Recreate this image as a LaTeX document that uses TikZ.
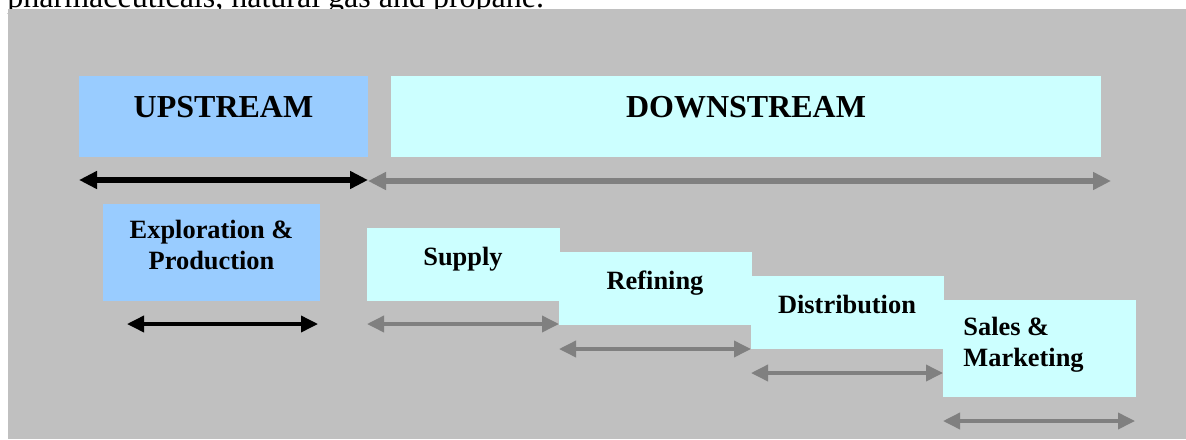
\documentclass[tikz,border=0pt]{standalone}
\usepackage{fontspec}
\setmainfont{Liberation Serif}
\usetikzlibrary{arrows.meta}
\definecolor{panel}{HTML}{C0C0C0}
\definecolor{upblue}{HTML}{99CCFF}
\definecolor{downcyan}{HTML}{CCFFFF}
\definecolor{spangray}{HTML}{808080}
\begin{document}
\begin{tikzpicture}[x=0.5pt,y=-0.5pt,
    up/.style={fill=upblue},
    down/.style={fill=downcyan},
    big/.style={font=\fontsize{16}{19}\selectfont\bfseries,inner sep=0pt},
    lbl/.style={font=\fontsize{13.2}{15.2}\selectfont\bfseries,inner sep=0pt},
    span/.style={line width=2.7pt,{Triangle[length=9pt,width=8.5pt]}-{Triangle[length=9pt,width=8.5pt]}},
    subspan/.style={line width=1.8pt,{Triangle[length=8.5pt,width=8pt]}-{Triangle[length=8.5pt,width=8pt]}},
  ]
  \useasboundingbox (0,0) rectangle (1186,439);
  \clip (0,0) rectangle (1186,439);
  \node[anchor=base west,inner sep=0pt,font=\fontsize{16}{19}\selectfont] (intro) at (7,7) {pharmaceuticals, natural gas and propane.};
  \fill[panel] (8,9) rectangle (1186,439);
  % boxes
  \fill[up] (79,76) rectangle (368,157);
  \fill[down] (391,76) rectangle (1101,157);
  \fill[up] (103,204) rectangle (320,301);
  \foreach \i/\h in {0/73,1/73,2/73,3/97}{
    \fill[down] (367+192*\i,228+24*\i) rectangle ++(193,\h);
  };
  % spans
  \draw[span] (79,180) -- (368,180);
  \draw[span,spangray] (368,181) -- (1111,181);
  \draw[subspan] (127,324) -- (318,324);
  \foreach \i/\y in {0/324,1/349,2/373,3/421}{
    \draw[subspan,spangray] (367+192*\i,\y) -- ++(192,0);
  };
  % labels
  \node[big,anchor=base] (upstream) at (223.5,117) {UPSTREAM};
  \node[big,anchor=base] (downstream) at (746,117) {DOWNSTREAM};
  \node[lbl,anchor=base,align=center] (explore) at (211.5,269) {Exploration \&\\Production};
  \foreach \name/\i in {Supply/0,Refining/1,Distribution/2}{
    \node[lbl,anchor=base] (step\i) at (463+192*\i,265+24*\i) {\name};
  };
  \node[lbl,anchor=base west,align=left] (sales) at (963,366) {Sales \&\\Marketing};
\end{tikzpicture}
\end{document}
